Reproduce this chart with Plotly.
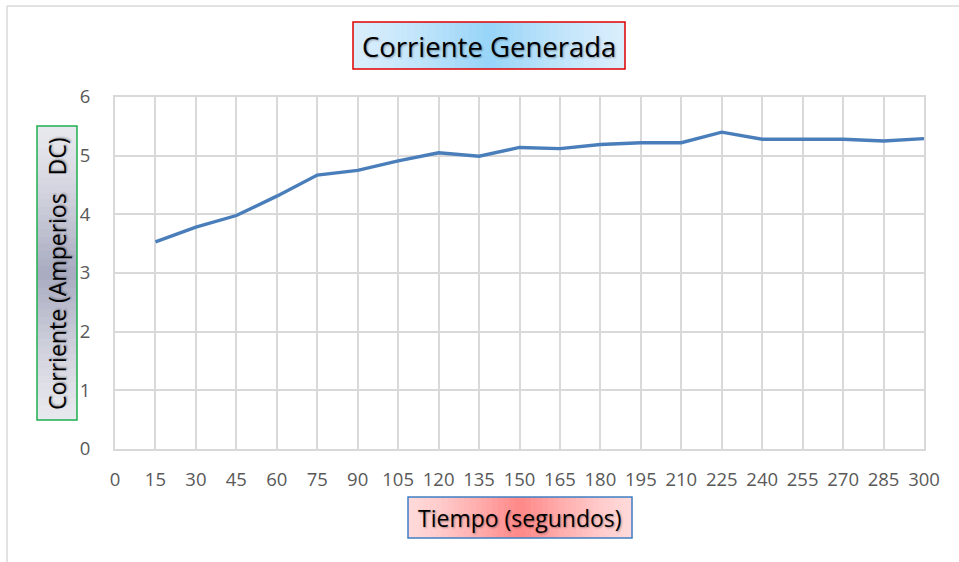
import plotly.graph_objects as go

# Measured current over time
tiempo = [15, 30, 45, 60, 75, 90, 105, 120, 135, 150,
          165, 180, 195, 210, 225, 240, 255, 270, 285, 300]
corriente = [3.53, 3.78, 3.98, 4.31, 4.67, 4.75, 4.91, 5.05, 4.99, 5.14,
             5.12, 5.19, 5.22, 5.22, 5.40, 5.28, 5.28, 5.28, 5.25, 5.29]
x_ticks = list(range(0, 301, 15))
y_ticks = [0, 1, 2, 3, 4, 5, 6]

W, H = 959, 562
L, R, T, B = 115, 924, 97, 449  # plot area in pixels
FONT = "Open Sans"


def px(x):
    return (x - L) / (R - L)


def py(y):
    return (B - y) / (B - T)


def mix(c1, c2, t):
    return "rgb(%d,%d,%d)" % tuple(round(a + (b - a) * t) for a, b in zip(c1, c2))


def gradient_box(x0, y0, x1, y1, edge, center, border, vertical=False, n=40):
    shapes = []
    for i in range(n):
        t0, t1 = i / n, (i + 1) / n
        tm = (t0 + t1) / 2
        k = 1 - abs(tm - 0.5) * 2  # 1 in the middle, 0 at the edges
        col = mix(edge, center, k ** 1.3)
        if vertical:
            sy0, sy1 = y0 + (y1 - y0) * t0, y0 + (y1 - y0) * t1 + 0.6
            box = dict(x0=px(x0), x1=px(x1), y0=py(sy0), y1=py(sy1))
        else:
            sx0, sx1 = x0 + (x1 - x0) * t0, x0 + (x1 - x0) * t1 + 0.6
            box = dict(x0=px(sx0), x1=px(sx1), y0=py(y0), y1=py(y1))
        shapes.append(dict(type="rect", xref="paper", yref="paper",
                           fillcolor=col, line=dict(width=0), layer="above", **box))
    shapes.append(dict(type="rect", xref="paper", yref="paper",
                       x0=px(x0), x1=px(x1), y0=py(y0), y1=py(y1),
                       line=dict(color=border, width=1.5), layer="above"))
    return shapes


shapes = []
# chart outer frame (top and left edges)
shapes.append(dict(type="line", xref="paper", yref="paper",
                   x0=px(7), x1=px(959), y0=py(6), y1=py(6),
                   line=dict(color="#d9d9d9", width=1.5)))
shapes.append(dict(type="line", xref="paper", yref="paper",
                   x0=px(7), x1=px(7), y0=py(6), y1=py(562),
                   line=dict(color="#d9d9d9", width=1.5)))
# title box, y-axis title box, x-axis title box
shapes += gradient_box(353, 22, 625, 69, (218, 238, 252), (150, 212, 248), "#e00000")
shapes += gradient_box(37, 126, 77, 420, (232, 232, 238), (168, 171, 192), "#1fb050", vertical=True)
shapes += gradient_box(408, 497, 632, 538, (255, 218, 218), (255, 135, 135), "#3f7fc4")

shadow = "1px 1px 2px rgba(0,0,0,0.35)"
box_text = dict(xref="paper", yref="paper", showarrow=False,
                xanchor="center", yanchor="middle")
annotations = [
    dict(text="Corriente Generada", x=px(489), y=py(46),
         font=dict(family=FONT, size=27.5, color="black", shadow=shadow), **box_text),
    dict(text="Corriente (Amperios\u00a0\u00a0\u00a0DC)", x=px(57), y=py(274),
         textangle=-90,
         font=dict(family=FONT, size=23, color="black", shadow=shadow), **box_text),
    dict(text="Tiempo (segundos)", x=px(520), y=py(518),
         font=dict(family=FONT, size=23, color="black", shadow=shadow), **box_text),
]

fig = go.Figure(go.Scatter(
    x=tiempo, y=corriente, mode="lines",
    line=dict(color="#4a7ebb", width=3.4),
    hoverinfo="x+y",
))

fig.update_layout(
    width=W, height=H,
    margin=dict(l=L, r=W - R, t=T, b=H - B),
    paper_bgcolor="white", plot_bgcolor="white",
    showlegend=False,
    shapes=shapes,
    annotations=annotations,
    font=dict(family=FONT, color="#595959"),
    xaxis=dict(
        range=[0, 300], tickvals=x_ticks, ticktext=[str(v) for v in x_ticks],
        showgrid=True, gridcolor="#d9d9d9", gridwidth=1.8,
        showline=True, linecolor="#d9d9d9", linewidth=1.8, mirror=True,
        zeroline=False, ticks="", tickfont=dict(size=18.5, color="#595959"),
        ticklabelstandoff=13,
    ),
    yaxis=dict(
        range=[0, 6], tickvals=y_ticks,
        showgrid=True, gridcolor="#d9d9d9", gridwidth=1.8,
        showline=True, linecolor="#d9d9d9", linewidth=1.8, mirror=True,
        zeroline=False, ticks="", tickfont=dict(size=18.5, color="#595959"),
        ticklabelstandoff=19,
    ),
)

fig.write_html("out.html")
